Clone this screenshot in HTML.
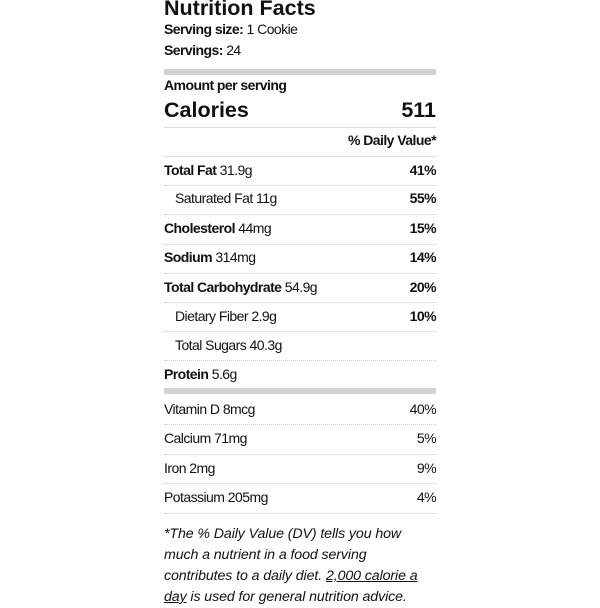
<!DOCTYPE html>
<html><head><meta charset="utf-8"><style>
html,body{margin:0;padding:0;background:#fff;}
body{width:600px;height:600px;position:relative;overflow:hidden;font-family:"Liberation Sans",Arial,sans-serif;color:#111;}
.t{position:absolute;left:164px;white-space:nowrap;}
.r{position:absolute;right:164px;white-space:nowrap;text-align:right;}
.row{font-size:14px;letter-spacing:-0.55px;line-height:16px;}
.bar{position:absolute;left:164px;width:272px;height:6px;background:#d2d2d2;}
.ln{position:absolute;left:164px;width:272px;height:0;border-top:1px solid #ddd;}
.dl{position:absolute;left:164px;width:272px;height:0;border-top:1px dotted #ccc;}
b{font-weight:bold;}
.foot{position:absolute;left:164px;width:290px;font-size:14.2px;font-style:italic;line-height:21px;letter-spacing:-0.1px;}
</style></head><body>
<div class="t" style="top:-5px;font-size:21.5px;font-weight:bold;line-height:26px;">Nutrition Facts</div>
<div class="t row" style="top:21px;"><b>Serving size:</b> 1 Cookie</div>
<div class="t row" style="top:42px;"><b>Servings:</b> 24</div>
<div class="bar" style="top:69px;"></div>
<div class="t row" style="top:77px;"><b>Amount per serving</b></div>
<div class="t" style="top:98px;font-size:21.5px;font-weight:bold;line-height:24px;">Calories</div>
<div class="r" style="top:98px;font-size:21.5px;font-weight:bold;line-height:24px;">511</div>
<div class="ln" style="top:127px;"></div>
<div class="r row" style="top:132px;"><b>% Daily Value*</b></div>
<div class="ln" style="top:156px;"></div>

<div class="t row" style="top:162px;"><b>Total Fat</b> 31.9g</div><div class="r row" style="top:162px;"><b>41%</b></div>
<div class="dl" style="top:185px;"></div>
<div class="t row" style="top:190px;left:175px;">Saturated Fat 11g</div><div class="r row" style="top:190px;"><b>55%</b></div>
<div class="dl" style="top:214px;"></div>
<div class="t row" style="top:220px;"><b>Cholesterol</b> 44mg</div><div class="r row" style="top:220px;"><b>15%</b></div>
<div class="dl" style="top:244px;"></div>
<div class="t row" style="top:249px;"><b>Sodium</b> 314mg</div><div class="r row" style="top:249px;"><b>14%</b></div>
<div class="dl" style="top:273px;"></div>
<div class="t row" style="top:279px;"><b>Total Carbohydrate</b> 54.9g</div><div class="r row" style="top:279px;"><b>20%</b></div>
<div class="dl" style="top:302px;"></div>
<div class="t row" style="top:308px;left:175px;">Dietary Fiber 2.9g</div><div class="r row" style="top:308px;"><b>10%</b></div>
<div class="dl" style="top:331px;"></div>
<div class="t row" style="top:337px;left:175px;">Total Sugars 40.3g</div>
<div class="dl" style="top:360px;"></div>
<div class="t row" style="top:366px;"><b>Protein</b> 5.6g</div>
<div class="bar" style="top:388px;"></div>

<div class="t row" style="top:401px;">Vitamin D 8mcg</div><div class="r row" style="top:401px;">40%</div>
<div class="dl" style="top:424px;"></div>
<div class="t row" style="top:430px;">Calcium 71mg</div><div class="r row" style="top:430px;">5%</div>
<div class="dl" style="top:454px;"></div>
<div class="t row" style="top:460px;">Iron 2mg</div><div class="r row" style="top:460px;">9%</div>
<div class="dl" style="top:483px;"></div>
<div class="t row" style="top:489px;">Potassium 205mg</div><div class="r row" style="top:489px;">4%</div>
<div class="dl" style="top:513px;"></div>

<div class="foot" style="top:524px;">*The % Daily Value (DV) tells you how<br>much a nutrient in a food serving<br>contributes to a daily diet. <u>2,000 calorie a</u><br><u>day</u> is used for general nutrition advice.</div>
</body></html>
